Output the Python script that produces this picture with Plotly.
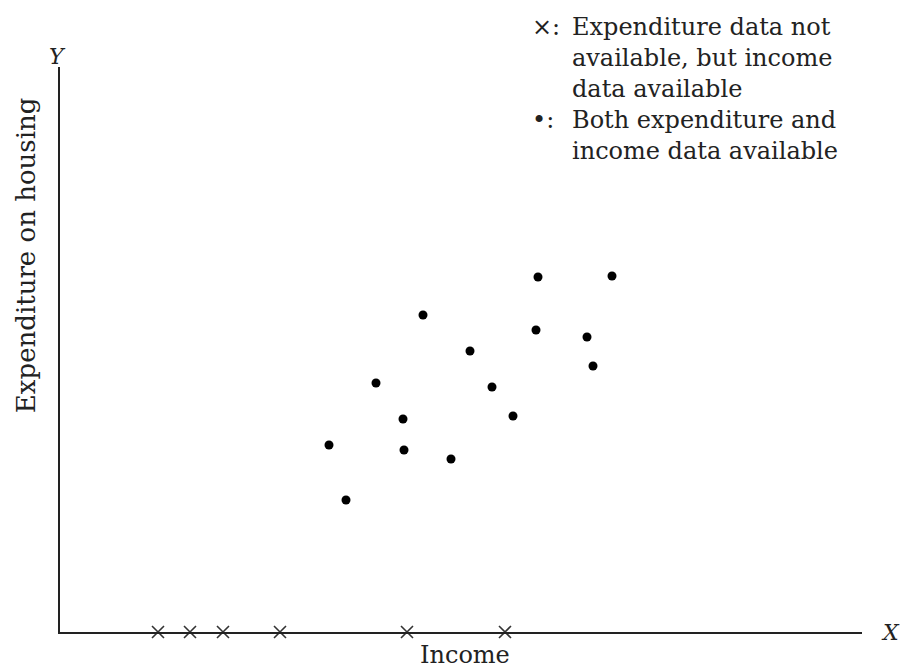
import plotly.graph_objects as go

# Data (arbitrary units)
both_income = [47.8, 55.2, 36.3, 47.6, 52.7, 41.0, 53.3, 31.6, 43.2, 34.3, 45.3, 26.9, 34.4, 39.1, 28.6]
both_expend = [35.5, 35.6, 31.7, 30.2, 29.5, 28.1, 26.6, 24.9, 24.5, 21.3, 21.6, 18.7, 18.2, 17.3, 13.2]
income_only = [9.8, 13.0, 16.3, 22.0, 34.7, 44.5]
income_only_y = [0, 0, 0, 0, 0, 0]

FONT = "DejaVu Serif"
TXT = "#222"

fig = go.Figure()
fig.add_trace(go.Scatter(x=both_income, y=both_expend, mode="markers",
                         marker=dict(symbol="circle", size=9, color="black"),
                         showlegend=False, cliponaxis=False))
fig.add_trace(go.Scatter(x=income_only, y=income_only_y, mode="markers",
                         marker=dict(symbol="x-thin", size=12, color="#333",
                                     line=dict(width=1.6, color="#333")),
                         showlegend=False, cliponaxis=False))

ann = [
    dict(text="Expenditure on housing", x=-0.0424, y=0.667, textangle=-90, size=26),
    dict(text="Income", x=0.505, y=-0.041, size=24),
    dict(text="<i>X</i>", x=1.035, y=0.0, size=22),
    dict(text="<i>Y</i>", x=-0.0025, y=1.018, size=22),
]
annotations = []
for a in ann:
    annotations.append(dict(text=a["text"], x=a["x"], y=a["y"], xref="paper", yref="paper",
                            showarrow=False, textangle=a.get("textangle", 0),
                            font=dict(family=FONT, size=a["size"], color=TXT),
                            xanchor="center", yanchor="middle"))

legend_items = [
    ("×:", "Expenditure data not<br>available, but income<br>data available", 1.099),
    ("•:", "Both expenditure and<br>income data available", 0.934),
]
for sym, txt, ytop in legend_items:
    annotations.append(dict(text=sym, x=(530 - 60) / 802, y=ytop, xref="paper", yref="paper",
                            showarrow=False, xanchor="left", yanchor="top", align="left",
                            font=dict(family=FONT, size=24, color=TXT)))
    annotations.append(dict(text=txt, x=(570 - 60) / 802, y=ytop, xref="paper", yref="paper",
                            showarrow=False, xanchor="left", yanchor="top", align="left",
                            font=dict(family=FONT, size=24, color=TXT)))

fig.update_layout(
    width=902, height=670,
    margin=dict(l=60, r=40, t=67, b=38),
    paper_bgcolor="white", plot_bgcolor="white",
    xaxis=dict(range=[0, 80.2], showgrid=False, zeroline=False, showticklabels=False,
               ticks="", showline=True, linecolor="#222", linewidth=2),
    yaxis=dict(range=[0, 56.5], showgrid=False, zeroline=False, showticklabels=False,
               ticks="", showline=True, linecolor="#222", linewidth=2),
    annotations=annotations,
)

fig.write_html("out.html", config={"displayModeBar": False},
               post_script="document.body.style.margin='0';")
